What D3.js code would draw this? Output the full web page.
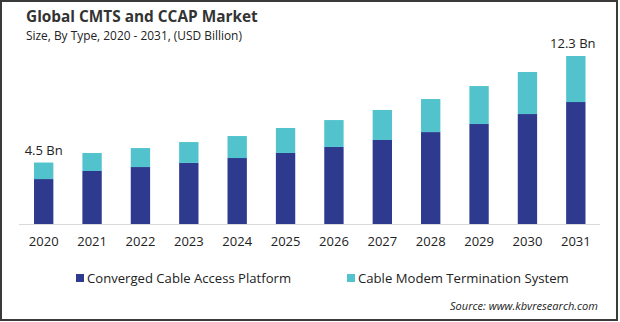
<!DOCTYPE html>
<html>
<head>
<meta charset="utf-8">
<script src="https://cdn.jsdelivr.net/npm/d3@7"></script>
<style>
  html, body { margin: 0; padding: 0; background: #fff; }
  svg { display: block; }
  text { font-family: "Open Sans", "Noto Sans", sans-serif; }
</style>
</head>
<body>
<svg id="chart" width="620" height="322"></svg>
<script>
const years = ["2020","2021","2022","2023","2024","2025","2026","2027","2028","2029","2030","2031"];
const ccap = [3.29, 3.88, 4.17, 4.47, 4.83, 5.20, 5.64, 6.15, 6.73, 7.32, 8.05, 8.93];
const cmts = [1.21, 1.32, 1.39, 1.53, 1.61, 1.83, 1.97, 2.20, 2.42, 2.78, 3.08, 3.37];
const seriesNames = ["Converged Cable Access Platform", "Cable Modem Termination System"];
const seriesColors = ["#2d3a8e", "#52c3cd"];
const endLabels = [{year: "2020", text: "4.5 Bn"}, {year: "2031", text: "12.3 Bn"}];

const svg = d3.select("#chart");

// frame
svg.append("rect").attr("x", 1).attr("y", 1).attr("width", 616).attr("height", 319)
  .attr("fill", "none").attr("stroke", "#3a3a3a").attr("stroke-width", 2);

function fit(sel, target) {
  const w = sel.node().getComputedTextLength();
  const fs = parseFloat(sel.attr("font-size"));
  sel.attr("font-size", (fs * target / w).toFixed(2));
  return sel;
}

// title
fit(svg.append("text").attr("x", 26).attr("y", 22).attr("font-size", 16)
  .attr("font-weight", "bold").attr("fill", "#333").text("Global  CMTS and CCAP Market"), 232);
fit(svg.append("text").attr("x", 26).attr("y", 40).attr("font-size", 11)
  .attr("fill", "#222").text("Size, By Type, 2020 - 2031, (USD Billion)"), 216);

const x = d3.scaleBand().domain(years).range([19.5, 600]).paddingInner(0.6).paddingOuter(0.3);
const y = d3.scaleLinear().domain([0, 12.3]).range([224, 56]);

const data = years.map((yr, i) => ({year: yr, ccap: ccap[i], cmts: cmts[i]}));
const stack = d3.stack().keys(["ccap", "cmts"])(data);

svg.append("g").selectAll("g").data(stack).join("g")
  .attr("fill", (d, i) => seriesColors[i])
  .selectAll("rect").data(d => d).join("rect")
  .attr("x", d => x(d.data.year))
  .attr("width", x.bandwidth())
  .attr("y", d => y(d[1]))
  .attr("height", d => y(d[0]) - y(d[1]));

// baseline
svg.append("line").attr("x1", 19).attr("x2", 600).attr("y1", y(0) + 0.5).attr("y2", y(0) + 0.5)
  .attr("stroke", "#d9d9d9").attr("stroke-width", 1);

// x axis
const xAxis = svg.append("g").attr("transform", `translate(0,${y(0)})`)
  .call(d3.axisBottom(x).tickSize(0).tickPadding(13));
xAxis.select(".domain").remove();
xAxis.selectAll("text").attr("font-size", 13).attr("fill", "#222")
  .attr("font-family", "\"Open Sans\", sans-serif");

// end labels
endLabels.forEach(l => {
  const i = years.indexOf(l.year);
  const tot = ccap[i] + cmts[i];
  svg.append("text").attr("x", x(l.year) + x.bandwidth() / 2 - (l.year === "2031" ? 3 : 0))
    .attr("y", y(tot) - 8).attr("text-anchor", "middle").attr("font-size", 13)
    .attr("fill", "#222").text(l.text);
});

// legend
const legX = [76, 347];
seriesNames.forEach((n, i) => {
  svg.append("rect").attr("x", legX[i]).attr("y", 274).attr("width", 8).attr("height", 8)
    .attr("fill", seriesColors[i]);
  const t = svg.append("text").attr("x", legX[i] + 11).attr("y", 283).attr("font-size", 13)
    .attr("fill", "#222").text(n);
  fit(t, i === 0 ? 204 : 211);
});

// source
const src = svg.append("text").attr("x", 598).attr("y", 310).attr("text-anchor", "end")
  .attr("font-size", 11).attr("font-style", "italic").attr("fill", "#222")
  .text("Source: www.kbvresearch.com");
fit(src, 148);
</script>
</body>
</html>
